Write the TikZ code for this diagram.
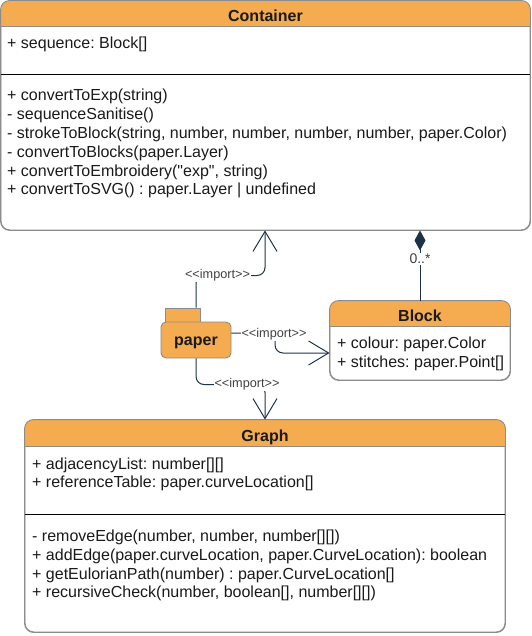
\documentclass[tikz,border=0pt]{standalone}
\usepackage{fontspec}
\setmainfont{Liberation Sans}[Ligatures=TeXOff]
\frenchspacing
\usetikzlibrary{arrows.meta,calc}
\definecolor{hdr}{HTML}{F5AB50}
\definecolor{bord}{HTML}{8C8C8C}
\definecolor{txt}{HTML}{1A1A1A}
\definecolor{navy}{HTML}{1E3246}
\definecolor{lbl}{HTML}{404040}
\begin{document}
\begin{tikzpicture}[x=1pt,y=-1pt,
  box/.style={draw=bord,line width=0.9pt,fill=white,rounded corners=9pt,inner sep=0pt},
  ttl/.style={anchor=base,font=\fontsize{16}{18}\selectfont\bfseries,text=txt,inner sep=0pt},
  row/.style={anchor=base west,font=\fontsize{16}{18}\selectfont,text=txt,inner sep=0pt},
  imp/.style={draw=navy,line width=1pt,rounded corners=8pt,-{Straight Barb[length=20pt,width=24pt,line width=1pt]}},
  impl/.style={fill=white,font=\fontsize{12.7}{14}\selectfont,text=lbl,inner sep=1pt},
  comp/.style={draw=navy,line width=1pt,-{Diamond[length=20pt,width=11pt,fill=navy]}},
  mult/.style={fill=white,font=\fontsize{14}{16}\selectfont,text=lbl,inner sep=1pt}]
\useasboundingbox (0,0) rectangle (531,636);

% ---------- Container ----------
\node[box,minimum width=529pt,minimum height=229pt] (cont) at (265.5,115.5) {};
\begin{scope}
  \path[clip,rounded corners=9pt] (cont.north west) rectangle (cont.south east);
  \fill[hdr] (cont.north west) rectangle (530,26);
\end{scope}
\draw[bord,line width=0.9pt] (1,26) -- (530,26);
\draw[bord,line width=0.9pt,rounded corners=9pt] (cont.north west) rectangle (cont.south east);
\draw[black,line width=0.9pt] (1,74) -- (530,74);
\node[ttl] (contT) at (265.5,21.5) {Container};
\node[row] (c0) at (7,48.5) {+ sequence: Block[]};
\node[row] (c1) at (7,100.5) {+ convertToExp(string)};
\node[row] (c2) at (7,119.4) {- sequenceSanitise()};
\node[row] (c3) at (7,138.3) {- strokeToBlock(string, number, number, number, number, paper.Color)};
\node[row] (c4) at (7,157.2) {- convertToBlocks(paper.Layer)};
\node[row] (c5) at (7,176.1) {+ convertToEmbroidery("exp", string)};
\node[row] (c6) at (7,195) {+ convertToSVG() : paper.Layer | undefined};

% ---------- Block ----------
\node[box,minimum width=180pt,minimum height=79pt] (blk) at (420,340.5) {};
\begin{scope}
  \path[clip,rounded corners=9pt] (blk.north west) rectangle (blk.south east);
  \fill[hdr] (blk.north west) rectangle (510,326);
\end{scope}
\draw[bord,line width=0.9pt] (330,326) -- (510,326);
\draw[bord,line width=0.9pt,rounded corners=9pt] (blk.north west) rectangle (blk.south east);
\node[ttl] (blkT) at (420,321) {Block};
\node[row] (b1) at (337,348) {+ colour: paper.Color};
\node[row] (b2) at (337,367) {+ stitches: paper.Point[]};

% ---------- Graph ----------
\node[box,minimum width=480pt,minimum height=212pt] (graph) at (265,526) {};
\begin{scope}
  \path[clip,rounded corners=9pt] (graph.north west) rectangle (graph.south east);
  \fill[hdr] (graph.north west) rectangle (505,446);
\end{scope}
\draw[bord,line width=0.9pt] (25,446) -- (505,446);
\draw[bord,line width=0.9pt,rounded corners=9pt] (graph.north west) rectangle (graph.south east);
\draw[black,line width=0.9pt] (25,514) -- (505,514);
\node[ttl] (graphT) at (265,441.5) {Graph};
\node[row] (g1) at (32,469) {+ adjacencyList: number[][]};
\node[row] (g2) at (32,487.5) {+ referenceTable: paper.curveLocation[]};
\node[row] (g3) at (32,541.5) {- removeEdge(number, number, number[][])};
\node[row] (g4) at (32,560.3) {+ addEdge(paper.curveLocation, paper.CurveLocation): boolean};
\node[row] (g5) at (32,579.1) {+ getEulorianPath(number) : paper.CurveLocation[]};
\node[row] (g6) at (32,597.9) {+ recursiveCheck(number, boolean[], number[][])};

% ---------- paper package ----------
\node[draw=bord,fill=hdr,line width=0.9pt,minimum width=35pt,minimum height=14pt,inner sep=0pt] (tab) at (182.5,315) {};
\node[draw=bord,fill=hdr,line width=0.9pt,rounded corners=5pt,minimum width=70pt,minimum height=36pt,inner sep=0pt] (paper) at (196,340) {};
\node[ttl] (paperT) at (196,345.5) {paper};

% ---------- connectors ----------
\coordinate (k1) at (265,275.5);
\coordinate (k2) at (275,333);
\coordinate (k3) at (265,384.5);
\draw[imp] (paper |- tab.north) |- (k1) -- (k1 |- cont.south);
\node[impl] (l1) at (217.5,275.5) {<<import>>};
\draw[imp] (paper.east |- k2) -- (k2) |- ([yshift=-12.5pt]blk.west);
\node[impl] (l2) at (274,334) {<<import>>};
\draw[imp] (paper.south) |- (k3) -- (k3 |- graph.north);
\node[impl] (l3) at (247,384.5) {<<import>>};
\draw[comp] (blk.north) -- (blk.north |- cont.south);
\node[mult] (m1) at (420,259) {0..*};
\end{tikzpicture}
\end{document}
